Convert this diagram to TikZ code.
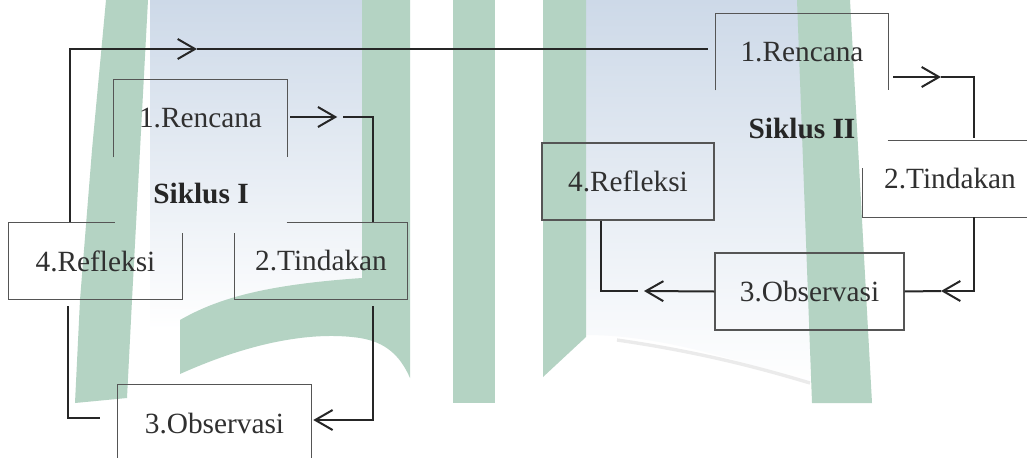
\documentclass[tikz,border=0pt]{standalone}
\usepackage{fontspec}
\setmainfont{Liberation Serif}
\usetikzlibrary{arrows.meta,calc}

\definecolor{wmgreen}{RGB}{180,211,195}
\definecolor{wmblue}{RGB}{205,217,232}
\definecolor{boxline}{RGB}{85,85,85}
\definecolor{wirecol}{RGB}{38,38,38}
\definecolor{ink}{RGB}{48,48,48}

\begin{document}
\begin{tikzpicture}[x=0.75pt,y=-0.75pt,
  lbl/.style={inner sep=0pt,text=ink,font=\fontsize{22}{26}\selectfont},
  stage/.style 2 args={lbl,minimum width={#1*0.75pt},minimum height={#2*0.75pt}},
  cyclename/.style={lbl,text=black!85,font=\fontsize{22}{26}\selectfont\bfseries},
  frame/.style={draw=boxline,line width=0.8pt},
  wire/.style={draw=wirecol,line width=1.5pt},
  tip/.style={-{Straight Barb[length=13pt,width=15pt]}}]

\useasboundingbox (0,0) rectangle (1027,457);
\clip (0,0) rectangle (1027,457);

% faint logo in the background
\fill[white] (0,0) rectangle (1027,457);
\shade[top color=wmblue,bottom color=white] (150,0) rectangle (362,330);
\shade[top color=wmblue,bottom color=white]
  (586,0) -- (805,0) -- (813,385) .. controls (740,360) and (660,335) .. (586,335) -- cycle;
\fill[wmgreen] (106,0) -- (148,0) -- (140,150) -- (132,300) -- (127,398)
  -- (75,403) -- (80,300) -- (92,150) -- cycle;
\fill[wmgreen] (362,0) -- (410,0) -- (410,378)
  .. controls (400,355) and (385,342) .. (360,338)
  .. controls (320,332) and (260,338) .. (180,374) -- (180,320)
  .. controls (215,300) and (260,285) .. (362,278) -- cycle;
\fill[wmgreen] (453,0) rectangle (495,403);
\fill[wmgreen] (543,0) -- (586,0) -- (586,337) -- (543,377) -- cycle;
\fill[wmgreen] (797,0) -- (850,0) -- (872,403) -- (812,403) -- cycle;
\draw[black!8,line width=2.5pt] (617,340) .. controls (700,352) and (760,368) .. (810,383);

% cycle I
\node[stage={173}{77}] (R1) at (200.5,118.5) {1.Rencana};
\node[stage={172}{76}] (T1) at (321,261) {2.Tindakan};
\node[stage={193}{78}] (O1) at (214.5,424) {3.Observasi};
\node[stage={173}{76}] (F1) at (95.5,261) {4.Refleksi};
\node[cyclename] (S1) at (201,193) {Siklus I};

\draw[frame] (R1.south west) -- (R1.north west) -- (R1.north east) -- (R1.south east);
\draw[frame] ($(T1.north west)+(52,0)$) -- (T1.north east) -- (T1.south east)
  -- (T1.south west) -- ($(T1.north west)+(0,10)$);
\draw[frame] (O1.south west) -- (O1.north west) -- (O1.north east) -- (O1.south east);
\draw[frame] ($(F1.north west)+(106,0)$) -- (F1.north west) -- (F1.south west)
  -- (F1.south east) -- ($(F1.north east)+(0,10)$);

\draw[wire,tip] ($(R1.east)+(3,-1.5)$) -- ($(R1.east)+(50,-1.5)$);
\draw[wire] ($(R1.east)+(56,-1.5)$) -| ($(T1.north east)+(-34,-1)$);
\draw[wire,tip] ($(T1.south east)+(-34,7)$) |- ($(O1.east)+(2,-4)$);
\draw[wire] ($(O1.west)+(-18,-6)$) -| ($(F1.south west)+(59,7)$);

% cycle II
\node[stage={172}{76}] (R2) at (802,52) {1.Rencana};
\node[stage={174}{76}] (T2) at (950,179) {2.Tindakan};
\node[stage={189}{77},draw=boxline,line width=0.8pt] (O2) at (809.5,291.5) {3.Observasi};
\node[stage={172}{77},draw=boxline,line width=0.8pt] (F2) at (628,181.5) {4.Refleksi};
\node[cyclename] (S2) at (802,128) {Siklus II};

\draw[frame] (R2.south west) -- (R2.north west) -- (R2.north east) -- (R2.south east);
\draw[frame] ($(T2.north west)+(25,0)$) -- (T2.north east) -- (T2.south east)
  -- (T2.south west) -- ($(T2.north west)+(0,27)$);

\coordinate (M2) at (941,77);
\draw[wire,tip] ($(R2.east)+(5,25)$) -- (M2);
\draw[wire] (M2) -| ($(T2.north west)+(111,-3)$);
\coordinate (M3) at (941,291);
\draw[wire,tip] ($(T2.south west)+(111,0)$) |- (M3);
\draw[wire] (M3) -- (O2.east);
\coordinate (M4) at (644,291);
\draw[wire,tip] (O2.west) -- (M4);
\draw[wire] ($(M4)+(-6,0)$) -| ($(F2.south west)+(60,0)$);

% link from cycle I to cycle II
\coordinate (M1) at (197,49);
\draw[wire,tip] ($(F1.north west)+(61,-1)$) |- (M1);
\draw[wire] (M1) -- ($(R2.west)+(-8,-3)$);
\end{tikzpicture}
\end{document}
